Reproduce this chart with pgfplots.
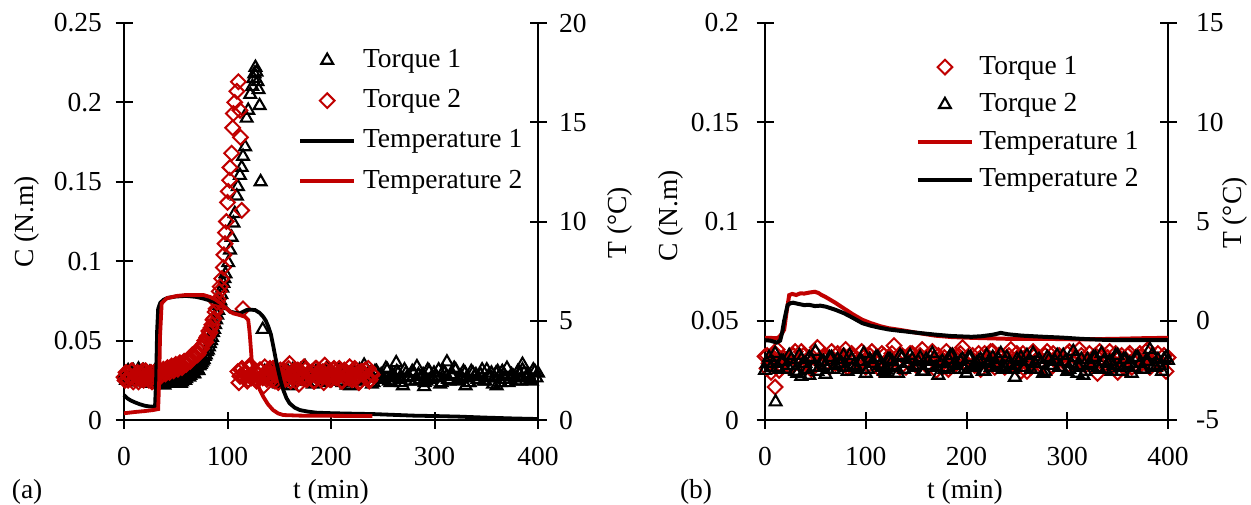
\documentclass[border=0pt]{standalone}
\usepackage{pgfplots}
\pgfplotsset{compat=1.18}
\usepackage{fontspec}
\setmainfont{Liberation Serif}
\definecolor{myred}{RGB}{192,0,0}
\pgfplotsset{
  myaxis/.style={
    scale only axis, anchor=south west,
    xmin=0, xmax=400, clip=false,
    tick align=center, major tick length=8.5bp,
    axis line style={-, line width=1bp, black},
    tick style={line width=1bp, black},
    /pgf/number format/assume math mode=true,
    scaled y ticks=false,
    yticklabel style={/pgf/number format/fixed, /pgf/number format/precision=2},
    xticklabel style={yshift=-4.5bp},
    legend cell align=left,
    legend image code/.code={\draw[mark repeat=2,mark phase=2,#1] plot coordinates {(0bp,0bp) (13.5bp,0bp) (27bp,0bp)};},
  },
  tri/.style={only marks, mark=triangle, mark size=3.4bp, mark options={line width=1.05bp, draw=black, fill=none}},
  dia/.style={only marks, mark=square, mark size=2.6bp, mark options={rotate=45, line width=1bp, draw=myred, fill=none}},
  tblack/.style={black, line width=1.9bp, no marks},
  tred/.style={myred, line width=1.9bp, no marks},
}
\begin{document}
\fontsize{13.75bp}{16bp}\selectfont
\begin{tikzpicture}[x=1bp,y=1bp]
\path[use as bounding box] (0,0) rectangle (625.5,252);
% ================= Panel (a) =================
\begin{axis}[myaxis, at={(62bp,42bp)}, width=207bp, height=198.5bp,
  ymin=0, ymax=0.25,
  axis x line*=bottom, axis y line*=left,
  xtick={0,100,200,300,400}, ytick={0,0.05,0.1,0.15,0.2,0.25},
  yticklabel style={xshift=-2bp},
  xlabel={t (min)}, ylabel={C (N.m)},
  every axis x label/.style={at={(axis description cs:0.5,-0.181)}, anchor=center},
  every axis y label/.style={at={(axis description cs:-0.234,0.499)}, anchor=center, rotate=90},
]
% Torque 1 (black triangles)
\addplot[tri] coordinates {
(0,0.029) (2,0.025) (4,0.031) (6,0.027) (8,0.024) (10,0.030) (12,0.026) (14,0.032) (16,0.028) (18,0.025)
(20,0.030) (22,0.027) (24,0.023) (26,0.029) (28,0.026) (30,0.031) (32,0.025) (34,0.028) (36,0.024) (38,0.027)
(40,0.023) (42,0.026) (44,0.029) (46,0.024) (48,0.027) (50,0.023) (52,0.028) (54,0.025) (56,0.024) (58,0.029)
(60,0.026) (62,0.030) (64,0.028) (66,0.031) (68,0.029) (70,0.033) (72,0.031) (74,0.035) (76,0.037) (78,0.040)
(80,0.043) (82,0.046) (84,0.050) (86,0.055) (88,0.060) (90,0.066) (92,0.072) (94,0.079) (96,0.086) (98,0.092)
(1,0.027) (3,0.030) (5,0.025) (7,0.028) (9,0.031) (11,0.027) (13,0.024) (15,0.029) (17,0.026) (19,0.031)
(21,0.025) (23,0.028) (25,0.030) (27,0.024) (29,0.028) (31,0.026) (33,0.023) (35,0.027) (37,0.025) (39,0.022)
(41,0.025) (43,0.027) (45,0.023) (47,0.026) (49,0.024) (51,0.027) (53,0.025) (55,0.023) (57,0.027) (59,0.025)
(61,0.028) (63,0.027) (65,0.030) (67,0.029) (69,0.031) (71,0.032) (73,0.034) (75,0.036) (77,0.038) (79,0.041)
(81,0.044) (83,0.048) (85,0.052) (87,0.057) (89,0.063) (91,0.069) (93,0.075) (95,0.083) (97,0.089)
(100.7,0.099) (102.4,0.107) (104,0.115) (105.7,0.124) (107,0.130) (109,0.141) (110,0.147) (112,0.154) (113.7,0.159) (115,0.166)
(117,0.172) (118.5,0.190) (120,0.195) (122,0.205) (124,0.210) (125,0.215) (126,0.218) (127,0.222) (128,0.219) (129,0.213)
(130,0.208) (131,0.198) (132,0.150) (134,0.057)
(136,0.0305) (139,0.0255) (142,0.0285) (145,0.0325) (148,0.0245) (151,0.0275) (154,0.0235) (157,0.0295) (160,0.0265) (163,0.0315)
(166,0.0255) (169,0.0285) (172,0.0245) (175,0.0335) (178,0.0265) (181,0.0295) (184,0.0235) (187,0.0275) (190,0.0305) (193,0.0255)
(196,0.0325) (199,0.0245) (202,0.0285) (205,0.0265) (208,0.0315) (211,0.0235) (214,0.0295) (217,0.0275) (220,0.0255) (223,0.0305)
(226,0.0245) (229,0.0285) (232,0.0345) (235,0.0265) (238,0.0295) (241,0.0235) (244,0.0305) (247,0.0275) (250,0.0255) (253,0.0325)
(256,0.0245) (259,0.0285) (262,0.0265) (265,0.0295) (268,0.0235) (271,0.0315) (274,0.0275) (277,0.0245) (280,0.0295) (283,0.0335)
(286,0.0255) (289,0.0285) (292,0.0245) (295,0.0305) (298,0.0265) (301,0.0275) (304,0.0315) (307,0.0235) (310,0.0295) (313,0.0255)
(316,0.0285) (319,0.0325) (322,0.0245) (325,0.0275) (328,0.0305) (331,0.0265) (334,0.0235) (337,0.0295) (340,0.0285) (343,0.0255)
(346,0.0315) (349,0.0245) (352,0.0275) (355,0.0295) (358,0.0265) (361,0.0305) (364,0.0235) (367,0.0285) (370,0.0325) (373,0.0255)
(376,0.0275) (379,0.0245) (382,0.0295) (385,0.0315) (388,0.0265) (391,0.0285) (394,0.0245) (397,0.0305) (400,0.0295)
(137.5,0.0275) (140.5,0.0315) (143.5,0.0255) (146.5,0.0285) (149.5,0.0235) (152.5,0.0295) (155.5,0.0265) (158.5,0.0305) (161.5,0.0215) (164.5,0.0285)
(167.5,0.0255) (170.5,0.0315) (173.5,0.0275) (176.5,0.0245) (179.5,0.0295) (182.5,0.0225) (185.5,0.0305) (188.5,0.0265) (191.5,0.0285) (194.5,0.0235)
(197.5,0.0315) (200.5,0.0255) (203.5,0.0275) (206.5,0.0295) (209.5,0.0245) (212.5,0.0305) (215.5,0.0265) (218.5,0.0215) (221.5,0.0285) (224.5,0.0255)
(227.5,0.0315) (230.5,0.0245) (233.5,0.0275) (236.5,0.0295) (239.5,0.0225) (242.5,0.0305) (245.5,0.0265) (248.5,0.0285) (251.5,0.0255) (254.5,0.0315)
(257.5,0.0235) (260.5,0.0275) (263.5,0.0305) (266.5,0.0255) (269.5,0.0215) (272.5,0.0295) (275.5,0.0265) (278.5,0.0305) (281.5,0.0245) (284.5,0.0285)
(287.5,0.0275) (290.5,0.0235) (293.5,0.0315) (296.5,0.0255) (299.5,0.0295) (302.5,0.0265) (305.5,0.0225) (308.5,0.0305) (311.5,0.0275) (314.5,0.0245)
(317.5,0.0285) (320.5,0.0315) (323.5,0.0255) (326.5,0.0265) (329.5,0.0295) (332.5,0.0235) (335.5,0.0305) (338.5,0.0275) (341.5,0.0255) (344.5,0.0285)
(347.5,0.0245) (350.5,0.0315) (353.5,0.0265) (356.5,0.0225) (359.5,0.0295) (362.5,0.0275) (365.5,0.0305) (368.5,0.0255) (371.5,0.0235) (374.5,0.0285)
(377.5,0.0265) (380.5,0.0305) (383.5,0.0245) (386.5,0.0295) (389.5,0.0275) (392.5,0.0255) (395.5,0.0315) (398.5,0.0265)
(263,0.036) (312,0.0365) (290,0.021) (330,0.0215) (215,0.022) (150,0.0225) (360,0.0215) (385,0.035)
};
% Torque 2 (red diamonds)
\addplot[dia] coordinates {
(0,0.027) (2,0.030) (4,0.025) (6,0.028) (8,0.031) (10,0.026) (12,0.029) (14,0.024) (16,0.028) (18,0.031)
(20,0.026) (22,0.029) (24,0.025) (26,0.030) (28,0.027) (30,0.024) (32,0.029) (34,0.031) (36,0.028) (38,0.032)
(40,0.029) (42,0.033) (44,0.030) (46,0.034) (48,0.031) (50,0.035) (52,0.032) (54,0.036) (56,0.033) (58,0.037)
(60,0.035) (62,0.038) (64,0.037) (66,0.041) (68,0.040) (70,0.043) (72,0.042) (74,0.046) (76,0.047) (78,0.050)
(80,0.052) (82,0.056) (84,0.058) (86,0.063) (88,0.068) (90,0.074) (92,0.081) (94.4,0.089) (96,0.096) (96.5,0.104)
(1,0.025) (3,0.029) (5,0.027) (7,0.031) (9,0.024) (11,0.028) (13,0.030) (15,0.026) (17,0.029) (19,0.025)
(21,0.031) (23,0.027) (25,0.028) (27,0.024) (29,0.030) (31,0.027) (33,0.026) (35,0.030) (37,0.029) (39,0.031)
(41,0.030) (43,0.032) (45,0.033) (47,0.032) (49,0.034) (51,0.033) (53,0.035) (55,0.034) (57,0.036) (59,0.035)
(61,0.037) (63,0.039) (65,0.038) (67,0.040) (69,0.042) (71,0.041) (73,0.044) (75,0.045) (77,0.048) (79,0.049)
(81,0.053) (83,0.055) (85,0.060) (87,0.064) (89,0.070) (91,0.076) (93,0.084)
(97.6,0.111) (98,0.118) (99,0.125) (100,0.137) (100.7,0.144) (102,0.151) (102.4,0.159) (104,0.168) (105,0.184) (105.6,0.193)
(107,0.200) (109,0.207) (110.5,0.213) (112,0.195) (112.5,0.178) (113.7,0.132) (115,0.070)
(110,0.0305) (112,0.0275) (114,0.0325) (116,0.0265) (118,0.0295) (120,0.0255) (122,0.0345) (124,0.0275) (126,0.0305) (128,0.0245)
(130,0.0285) (132,0.0315) (134,0.0265) (136,0.0335) (138,0.0255) (140,0.0295) (142,0.0275) (144,0.0325) (146,0.0245) (148,0.0305)
(150,0.0285) (152,0.0265) (154,0.0315) (156,0.0255) (158,0.0295) (160,0.0355) (162,0.0275) (164,0.0305) (166,0.0245) (168,0.0315)
(170,0.0285) (172,0.0265) (174,0.0335) (176,0.0255) (178,0.0295) (180,0.0275) (182,0.0305) (184,0.0245) (186,0.0325) (188,0.0285)
(190,0.0255) (192,0.0305) (194,0.0345) (196,0.0265) (198,0.0295) (200,0.0255) (202,0.0315) (204,0.0275) (206,0.0285) (208,0.0325)
(210,0.0245) (212,0.0305) (214,0.0265) (216,0.0295) (218,0.0335) (220,0.0255) (222,0.0285) (224,0.0315) (226,0.0275) (228,0.0245)
(230,0.0305) (232,0.0295) (234,0.0265) (236,0.0325) (238,0.0255) (240,0.0285)
(111,0.0235) (113,0.0315) (115,0.0275) (117,0.0295) (119,0.0245) (121,0.0325) (123,0.0265) (125,0.0285) (127,0.0305) (129,0.0255)
(131,0.0315) (133,0.0275) (135,0.0215) (137,0.0295) (139,0.0265) (141,0.0325) (143,0.0255) (145,0.0285) (147,0.0305) (149,0.0235)
(151,0.0315) (153,0.0275) (155,0.0295) (157,0.0265) (159,0.0325) (161,0.0245) (163,0.0285) (165,0.0315) (167,0.0265) (169,0.0225)
(171,0.0305) (173,0.0275) (175,0.0315) (177,0.0255) (179,0.0295) (181,0.0285) (183,0.0245) (185,0.0325) (187,0.0265) (189,0.0305)
(191,0.0275) (193,0.0235) (195,0.0315) (197,0.0285) (199,0.0255) (201,0.0295) (203,0.0325) (205,0.0265) (207,0.0275) (209,0.0305)
(211,0.0245) (213,0.0315) (215,0.0285) (217,0.0265) (219,0.0295) (221,0.0255) (223,0.0325) (225,0.0275) (227,0.0235) (229,0.0305)
(231,0.0285) (233,0.0315) (235,0.0265) (237,0.0245) (239,0.0295)
};
\node[anchor=center] at (axis description cs:-0.234,-0.181) {(a)};
\end{axis}
\begin{axis}[myaxis, at={(62bp,42bp)}, width=207bp, height=198.5bp,
  ymin=0, ymax=20,
  axis x line=none, axis y line*=right,
  ytick={0,5,10,15,20},
  yticklabel style={xshift=1.5bp},
  ylabel={T (°C)},
  every axis y label/.style={at={(axis description cs:1.198,0.497)}, anchor=center, rotate=90},
  legend style={at={(axis description cs:0.42,0.935)}, anchor=north west, draw=none, fill=none,
     inner sep=0pt, row sep=9bp, nodes={inner sep=0pt}, column sep=3.5bp},
]
\addlegendimage{tri}\addlegendentry{Torque 1}
\addlegendimage{dia}\addlegendentry{Torque 2}
% Temperature 1 (black)
\addplot[tblack] coordinates {
(0,1.26) (3,1.1) (6,1.0) (10,0.9) (15,0.8) (20,0.72) (25,0.68) (28,0.67) (30,0.7) (31,2.0) (32,4.5) (33,5.6)
(35,5.9) (38,6.05) (42,6.15) (50,6.22) (60,6.25) (70,6.2) (78,6.1) (85,5.98) (93,5.88) (98,5.7) (102.4,5.46)
(108,5.4) (112,5.37) (115,5.45) (118.5,5.54) (122,5.56) (126.6,5.54) (131,5.4) (134.6,5.2) (137,5.0) (139.5,4.7)
(142,4.3) (144.3,3.7) (146.5,3.1) (149,2.5) (151.5,1.95) (154,1.5) (157,1.1) (160,0.84) (165,0.62) (170,0.5)
(178,0.42) (186,0.37) (202,0.34) (220,0.32) (240,0.3) (260,0.26) (280,0.22) (300,0.2) (324,0.17) (350,0.12)
(375,0.08) (400,0.05)
};
\addlegendentry{Temperature 1}
% Temperature 2 (red)
\addplot[tred] coordinates {
(0,0.34) (10,0.4) (20,0.45) (28,0.5) (33,0.55) (34,2.0) (34.8,4.2) (36.4,5.88) (41.2,6.13) (51,6.25) (60,6.3)
(70,6.3) (76.6,6.3) (83,6.2) (88,6.08) (92.8,5.9) (97,5.7) (102.4,5.46) (105.6,5.37) (111,5.3) (116.9,5.2)
(120,5.04) (121,4.6) (121.7,4.2) (123.4,3.0) (125.5,2.4) (128,2.0) (131,1.55) (134.6,1.17) (139,0.8) (144,0.5)
(149,0.33) (154,0.25) (170,0.22) (200,0.21) (240,0.2)
};
\addlegendentry{Temperature 2}
\end{axis}
% ================= Panel (b) =================
\begin{axis}[myaxis, at={(382.5bp,42bp)}, width=201.5bp, height=198.5bp,
  ymin=0, ymax=0.2,
  axis x line*=bottom, axis y line*=left,
  xtick={0,100,200,300,400}, ytick={0,0.05,0.1,0.15,0.2},
  yticklabel style={xshift=-4bp},
  xlabel={t (min)}, ylabel={C (N.m)},
  every axis x label/.style={at={(axis description cs:0.496,-0.181)}, anchor=center},
  every axis y label/.style={at={(axis description cs:-0.233,0.514)}, anchor=center, rotate=90},
]
% Torque 1 (red diamonds)
\addplot[dia] coordinates {
(0,0.032) (4,0.0285) (8,0.0315) (12,0.0355) (16,0.0275) (20,0.0305) (24,0.0265) (28,0.0325) (32,0.0295) (36,0.0345)
(40,0.0285) (44,0.0315) (48,0.0275) (52,0.0365) (56,0.0295) (60,0.0325) (64,0.0265) (68,0.0305) (72,0.0335) (76,0.0285)
(80,0.0355) (84,0.0275) (88,0.0315) (92,0.0295) (96,0.0345) (100,0.0265) (104,0.0325) (108,0.0305) (112,0.0285) (116,0.0335)
(120,0.0275) (124,0.0315) (128,0.0375) (132,0.0295) (136,0.0325) (140,0.0265) (144,0.0335) (148,0.0305) (152,0.0285) (156,0.0355)
(160,0.0275) (164,0.0315) (168,0.0295) (172,0.0325) (176,0.0265) (180,0.0345) (184,0.0305) (188,0.0275) (192,0.0325) (196,0.0365)
(200,0.0285) (204,0.0315) (208,0.0275) (212,0.0335) (216,0.0295) (220,0.0305) (224,0.0345) (228,0.0265) (232,0.0325) (236,0.0285)
(240,0.0315) (244,0.0355) (248,0.0275) (252,0.0305) (256,0.0335) (260,0.0295) (264,0.0265) (268,0.0325) (272,0.0315) (276,0.0285)
(280,0.0345) (284,0.0275) (288,0.0305) (292,0.0325) (296,0.0295) (300,0.0335) (304,0.0265) (308,0.0315) (312,0.0355) (316,0.0285)
(320,0.0305) (324,0.0275) (328,0.0325) (332,0.0345) (336,0.0295) (340,0.0315) (344,0.0275) (348,0.0335) (352,0.0285) (356,0.0305)
(360,0.0325) (364,0.0265) (368,0.0315) (372,0.0335) (376,0.0295) (380,0.0355) (384,0.0285) (388,0.0305) (392,0.0275) (396,0.0325)
(400,0.0315)
(2,0.0325) (6,0.0295) (10,0.0335) (14,0.0275) (18,0.0315) (22,0.0305) (26,0.0265) (30,0.0345) (34,0.0285) (38,0.0325)
(42,0.0295) (46,0.0255) (50,0.0335) (54,0.0305) (58,0.0275) (62,0.0315) (66,0.0345) (70,0.0285) (74,0.0295) (78,0.0325)
(82,0.0265) (86,0.0335) (90,0.0305) (94,0.0285) (98,0.0315) (102,0.0275) (106,0.0345) (110,0.0295) (114,0.0255) (118,0.0325)
(122,0.0305) (126,0.0335) (130,0.0285) (134,0.0265) (138,0.0315) (142,0.0295) (146,0.0335) (150,0.0275) (154,0.0325) (158,0.0305)
(162,0.0285) (166,0.0345) (170,0.0295) (174,0.0275) (178,0.0315) (182,0.0255) (186,0.0325) (190,0.0305) (194,0.0335) (198,0.0285)
(202,0.0275) (206,0.0325) (210,0.0295) (214,0.0255) (218,0.0335) (222,0.0305) (226,0.0345) (230,0.0285) (234,0.0315) (238,0.0265)
(242,0.0325) (246,0.0295) (250,0.0335) (254,0.0245) (258,0.0315) (262,0.0285) (266,0.0345) (270,0.0305) (274,0.0275) (278,0.0325)
(282,0.0255) (286,0.0335) (290,0.0295) (294,0.0315) (298,0.0265) (302,0.0345) (306,0.0285) (310,0.0305) (314,0.0325) (318,0.0275)
(322,0.0335) (326,0.0295) (330,0.0235) (334,0.0315) (338,0.0285) (342,0.0345) (346,0.0275) (350,0.0305) (354,0.0325) (358,0.0255)
(362,0.0335) (366,0.0295) (370,0.0315) (374,0.0285) (378,0.0345) (382,0.0265) (386,0.0305) (390,0.0335) (394,0.0285) (398,0.0245)
(10,0.0166) (2,0.026) (6,0.024) (14,0.025) (350,0.024) (170,0.025) (260,0.0245)
};
% Torque 2 (black triangles)
\addplot[tri] coordinates {
(0,0.025) (2,0.0285) (6,0.0265) (10,0.0335) (14,0.0255) (18,0.0295) (22,0.0275) (26,0.0305) (30,0.0245) (34,0.0325) (38,0.0285)
(42,0.0255) (46,0.0305) (50,0.0345) (54,0.0265) (58,0.0295) (62,0.0255) (66,0.0315) (70,0.0275) (74,0.0285) (78,0.0325)
(82,0.0245) (86,0.0305) (90,0.0265) (94,0.0295) (98,0.0335) (102,0.0255) (106,0.0285) (110,0.0315) (114,0.0275) (118,0.0245)
(122,0.0305) (126,0.0295) (130,0.0265) (134,0.0325) (138,0.0255) (142,0.0285) (146,0.0305) (150,0.0275) (154,0.0315) (158,0.0245)
(162,0.0295) (166,0.0335) (170,0.0265) (174,0.0285) (178,0.0255) (182,0.0305) (186,0.0325) (190,0.0275) (194,0.0295) (198,0.0255)
(202,0.0315) (206,0.0265) (210,0.0285) (214,0.0305) (218,0.0245) (222,0.0295) (226,0.0315) (230,0.0275) (234,0.0335) (238,0.0265)
(242,0.0285) (246,0.0255) (250,0.0305) (254,0.0315) (258,0.0265) (262,0.0295) (266,0.0335) (270,0.0255) (274,0.0285) (278,0.0245)
(282,0.0305) (286,0.0275) (290,0.0325) (294,0.0265) (298,0.0295) (302,0.0255) (306,0.0345) (310,0.0275) (314,0.0305) (318,0.0245)
(322,0.0285) (326,0.0315) (330,0.0265) (334,0.0335) (338,0.0255) (342,0.0295) (346,0.0275) (350,0.0325) (354,0.0245) (358,0.0305)
(362,0.0285) (366,0.0265) (370,0.0315) (374,0.0255) (378,0.0295) (382,0.0355) (386,0.0275) (390,0.0305) (394,0.0245) (398,0.0315)
(4,0.0315) (8,0.0285) (12,0.0265) (16,0.0295) (20,0.0255) (24,0.0325) (28,0.0275) (32,0.0235) (36,0.0305) (40,0.0285)
(44,0.0315) (48,0.0265) (52,0.0245) (56,0.0295) (60,0.0275) (64,0.0315) (68,0.0255) (72,0.0305) (76,0.0285) (80,0.0265)
(84,0.0325) (88,0.0275) (92,0.0255) (96,0.0295) (100,0.0235) (104,0.0305) (108,0.0285) (112,0.0315) (116,0.0265) (120,0.0255)
(124,0.0305) (128,0.0275) (132,0.0235) (136,0.0315) (140,0.0285) (144,0.0325) (148,0.0265) (152,0.0295) (156,0.0245) (160,0.0305)
(164,0.0275) (168,0.0315) (172,0.0225) (176,0.0295) (180,0.0265) (184,0.0325) (188,0.0285) (192,0.0255) (196,0.0305) (200,0.0235)
(204,0.0315) (208,0.0275) (212,0.0295) (216,0.0245) (220,0.0325) (224,0.0265) (228,0.0285) (232,0.0305) (236,0.0255) (240,0.0315)
(244,0.0275) (248,0.0215) (252,0.0295) (256,0.0265) (260,0.0325) (264,0.0255) (268,0.0285) (272,0.0305) (276,0.0235) (280,0.0315)
(284,0.0275) (288,0.0295) (292,0.0265) (296,0.0325) (300,0.0245) (304,0.0285) (308,0.0315) (312,0.0265) (316,0.0225) (320,0.0305)
(324,0.0275) (328,0.0315) (332,0.0255) (336,0.0295) (340,0.0285) (344,0.0245) (348,0.0325) (352,0.0265) (356,0.0305) (360,0.0275)
(364,0.0235) (368,0.0315) (372,0.0285) (376,0.0255) (380,0.0295) (384,0.0325) (388,0.0265) (392,0.0275) (396,0.0305)
(400,0.030) (10.5,0.0091) (36,0.022) (44,0.0225) (60,0.023) (120,0.0235) (200,0.0235) (310,0.0235)
};
\node[anchor=center] at (axis description cs:-0.171,-0.181) {(b)};
\end{axis}
\begin{axis}[myaxis, at={(382.5bp,42bp)}, width=201.5bp, height=198.5bp,
  ymin=-5, ymax=15,
  axis x line=none, axis y line*=right,
  ytick={-5,0,5,10,15},
  yticklabel style={xshift=5bp},
  ylabel={T (°C)},
  every axis y label/.style={at={(axis description cs:1.166,0.521)}, anchor=center, rotate=90},
  legend style={at={(axis description cs:0.3735,0.918)}, anchor=north west, draw=none, fill=none,
     inner sep=0pt, row sep=7.6bp, nodes={inner sep=0pt}, column sep=2.7bp},
]
\addlegendimage{dia}\addlegendentry{Torque 1}
\addlegendimage{tri}\addlegendentry{Torque 2}
% Temperature 1 (red)
\addplot[tred, line width=2bp] coordinates {
(0,-0.86) (5,-0.86) (10,-0.88) (13,-0.86) (16,-0.7) (19,-0.45) (21,0.3) (24,1.29) (27,1.35) (31,1.3) (35,1.38)
(39,1.37) (44,1.42) (49.5,1.46) (53,1.4) (56,1.3) (60,1.2) (70,0.9) (78,0.63) (87,0.33) (96.5,0.05) (105,-0.12)
(114.6,-0.28) (123,-0.38) (132.6,-0.45) (150,-0.6) (169,-0.75) (185,-0.82) (205,-0.86) (241,-0.91) (277,-0.91)
(313,-0.94) (349,-0.91) (375,-0.88) (400,-0.86)
};
\addlegendentry{Temperature 1}
% Temperature 2 (black)
\addplot[tblack, line width=2bp] coordinates {
(0,-0.98) (5,-1.0) (11.6,-1.1) (15,-1.0) (17,-0.6) (19,0.0) (22.4,0.79) (25,0.88) (27.8,0.91) (33,0.85) (38.7,0.79)
(44,0.8) (49.5,0.74) (55,0.76) (60.4,0.71) (70,0.55) (78.4,0.38) (87,0.15) (96.5,-0.12) (105,-0.25) (114.6,-0.36)
(123,-0.44) (132.6,-0.5) (150,-0.6) (169,-0.7) (185,-0.77) (205,-0.81) (215,-0.78) (226.6,-0.7) (234,-0.61)
(241,-0.68) (255,-0.75) (277,-0.81) (295,-0.85) (313,-0.91) (330,-0.95) (349.5,-0.98) (375,-0.98) (400,-0.98)
};
\addlegendentry{Temperature 2}
\end{axis}
\end{tikzpicture}
\end{document}
